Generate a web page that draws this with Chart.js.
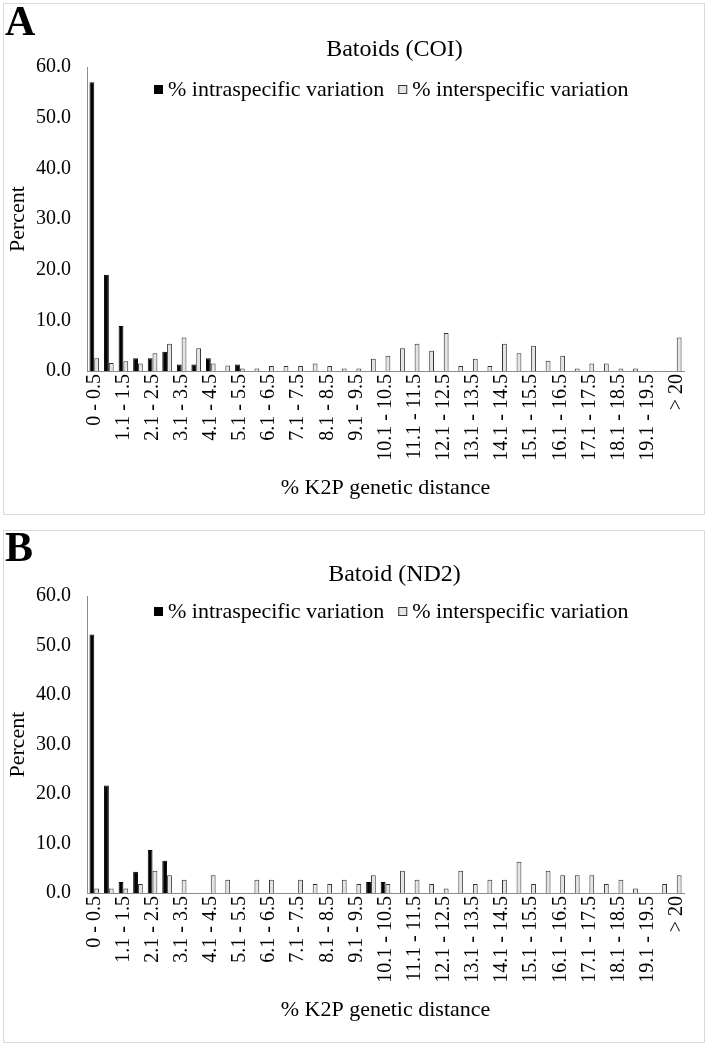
<!DOCTYPE html>
<html>
<head>
<meta charset="utf-8">
<script src="https://cdn.jsdelivr.net/npm/chart.js@4.4.0/dist/chart.umd.min.js"></script>
<style>
  html, body { margin: 0; padding: 0; background: #fff; }
  body { width: 710px; height: 1047px; position: relative; overflow: hidden; font-family: "Liberation Serif", serif; }
  .panel { position: absolute; left: 3px; width: 702px; border: 1px solid #d9d9d9; box-sizing: border-box; background: #fff; }
  .panel canvas { position: absolute; left: 0; top: 0; }
  .letter { position: absolute; left: 5px; font: bold 42px "Liberation Serif", serif; line-height: 42px; color: #000; }
</style>
</head>
<body>
<div class="panel" id="panelA" style="top:3px;height:512px;"><canvas id="chartA" width="700" height="510"></canvas></div>
<div class="panel" id="panelB" style="top:530px;height:513px;"><canvas id="chartB" width="700" height="511"></canvas></div>
<div class="letter" style="top:0px;">A</div>
<div class="letter" style="top:526px;">B</div>
<script>
// ---- data ----
const categories = ["0 - 0.5","0.6 - 1.0","1.1 - 1.5","1.6 - 2.0","2.1 - 2.5","2.6 - 3.0","3.1 - 3.5","3.6 - 4.0","4.1 - 4.5","4.6 - 5.0",
  "5.1 - 5.5","5.6 - 6.0","6.1 - 6.5","6.6 - 7.0","7.1 - 7.5","7.6 - 8.0","8.1 - 8.5","8.6 - 9.0","9.1 - 9.5","9.6 - 10.0",
  "10.1 - 10.5","10.6 - 11.0","11.1 - 11.5","11.6 - 12.0","12.1 - 12.5","12.6 - 13.0","13.1 - 13.5","13.6 - 14.0","14.1 - 14.5","14.6 - 15.0",
  "15.1 - 15.5","15.6 - 16.0","16.1 - 16.5","16.6 - 17.0","17.1 - 17.5","17.6 - 18.0","18.1 - 18.5","18.6 - 19.0","19.1 - 19.5","19.6 - 20.0","> 20"];

const seriesNames = ["% intraspecific variation", "% interspecific variation"];

// Panel A: Batoids (COI)
const coiIntra = [57.0,19.0,8.9,2.5,2.5,3.8,1.3,1.3,2.5,0,
  1.3,0,0,0,0,0,0,0,0,0,
  0,0,0,0,0,0,0,0,0,0,
  0,0,0,0,0,0,0,0,0,0,0];
const coiInter = [2.5,1.6,1.9,1.5,3.5,5.4,6.6,4.5,1.5,1.1,
  0.5,0.5,1.0,1.0,1.0,1.5,1.0,0.5,0.5,2.4,
  3.0,4.5,5.4,4.0,7.5,1.0,2.4,1.0,5.4,3.5,
  5.0,2.0,3.0,0.5,1.5,1.5,0.5,0.5,0,0,6.6];

// Panel B: Batoid (ND2)
const nd2Intra = [52.2,21.7,2.2,4.3,8.7,6.5,0,0,0,0,
  0,0,0,0,0,0,0,0,0,2.2,
  2.2,0,0,0,0,0,0,0,0,0,
  0,0,0,0,0,0,0,0,0,0,0];
const nd2Inter = [0.9,0.9,0.9,1.8,4.5,3.6,2.7,0,3.6,2.7,
  0,2.7,2.7,0,2.7,1.8,1.8,2.7,1.8,3.6,
  1.8,4.5,2.7,1.8,0.9,4.5,1.8,2.7,2.7,6.3,
  1.8,4.5,3.6,3.6,3.6,1.8,2.7,0.9,0,1.8,3.6];

const yTicks = [0, 10, 20, 30, 40, 50, 60];

// ---- styles ----
const FONT = "'Liberation Serif', 'Times New Roman', serif";
const AXIS = "#8c8c8c";

// legend drawn inside the plot area, on one row (Excel style)
const inlineLegend = {
  id: 'inlineLegend',
  afterDatasetsDraw(chart, args, opts) {
    const { ctx, chartArea } = chart;
    ctx.save();
    ctx.font = opts.size + 'px ' + FONT;
    const items = chart.data.datasets.map(ds => ({
      text: ds.label, w: ctx.measureText(ds.label).width, fill: ds.backgroundColor, stroke: ds.borderColor }));
    const box = 9, gap = 5, spacing = 14;
    const total = items.reduce((s, it) => s + box + gap + it.w, 0) + spacing * (items.length - 1);
    let x = Math.round((chartArea.left + chartArea.right) / 2 + opts.dx - total / 2);
    const y = Math.round(chartArea.top + opts.dy);
    ctx.textBaseline = 'middle';
    ctx.textAlign = 'left';
    items.forEach(it => {
      ctx.fillStyle = it.fill;
      ctx.fillRect(x, y - 5, box, box);
      ctx.strokeStyle = it.stroke;
      ctx.lineWidth = 1;
      ctx.strokeRect(x + 0.5, y - 4.5, box - 1, box - 1);
      ctx.fillStyle = '#000';
      ctx.fillText(it.text, x + box + gap, y);
      x += box + gap + it.w + spacing;
    });
    ctx.restore();
  }
};

// nudge the title a little to the right, as in the reference
const titleShift = {
  id: 'titleShift',
  afterLayout(chart, args, opts) {
    const t = chart.titleBlock;
    if (t) { t.left += opts.dx; t.right += opts.dx; }
  }
};

function makeChart(id, titleText, intra, inter, lay) {
  return new Chart(document.getElementById(id), {
    type: 'bar',
    data: {
      labels: categories,
      datasets: [
        { label: seriesNames[0], data: intra, backgroundColor: '#000000', borderColor: '#000000', borderWidth: 1,
          categoryPercentage: 0.66, barPercentage: 1.0 },
        { label: seriesNames[1], data: inter, backgroundColor: '#e4e4e4', borderColor: '#333333', borderWidth: 1,
          categoryPercentage: 0.66, barPercentage: 1.0 }
      ]
    },
    plugins: [inlineLegend, titleShift],
    options: {
      responsive: false,
      animation: false,
      devicePixelRatio: 1,
      layout: { padding: { top: 0, left: 0, right: 7, bottom: 0 } },
      plugins: {
        title: { display: true, text: titleText, fullSize: false, color: '#000',
          font: { family: FONT, size: 24, weight: 'normal' },
          padding: { top: lay.titleTop, bottom: lay.titleBottom } },
        legend: { display: false },
        inlineLegend: { size: 22, dx: 6, dy: lay.legendDy },
        titleShift: { dx: 9 },
        tooltip: { enabled: false }
      },
      scales: {
        x: {
          grid: { display: false, drawTicks: false },
          border: { display: true, color: AXIS, width: 1 },
          ticks: { autoSkip: false, minRotation: 90, maxRotation: 90, padding: 3, color: '#000',
            font: { family: FONT, size: 20 },
            callback: function (v, i) { return i % 2 === 0 ? categories[i] : ''; } },
          title: { display: true, text: '% K2P genetic distance', color: '#000',
            font: { family: FONT, size: 22 }, padding: { top: 0, bottom: lay.xTitleBottom } },
          afterFit: function (s) { s.height = lay.xHeight; }
        },
        y: {
          min: yTicks[0], max: yTicks[yTicks.length - 1],
          grid: { display: false, drawTicks: false },
          border: { display: true, color: AXIS, width: 1 },
          ticks: { stepSize: yTicks[1] - yTicks[0], padding: 16, color: '#000',
            font: { family: FONT, size: 20 },
            callback: function (v) { return Number(v).toFixed(1); } },
          title: { display: true, text: 'Percent', color: '#000',
            font: { family: FONT, size: 22 }, padding: { top: 1, bottom: 0 } },
          afterFit: function (s) { s.width = 83; }
        }
      }
    }
  });
}

makeChart('chartA', 'Batoids (COI)', coiIntra, coiInter,
  { titleTop: 31.6, titleBottom: 2.6, legendDy: 23, xHeight: 143, xTitleBottom: 12.8 });
makeChart('chartB', 'Batoid (ND2)', nd2Intra, nd2Inter,
  { titleTop: 29.6, titleBottom: 6.6, legendDy: 16, xHeight: 149, xTitleBottom: 18.8 });
</script>
</body>
</html>
